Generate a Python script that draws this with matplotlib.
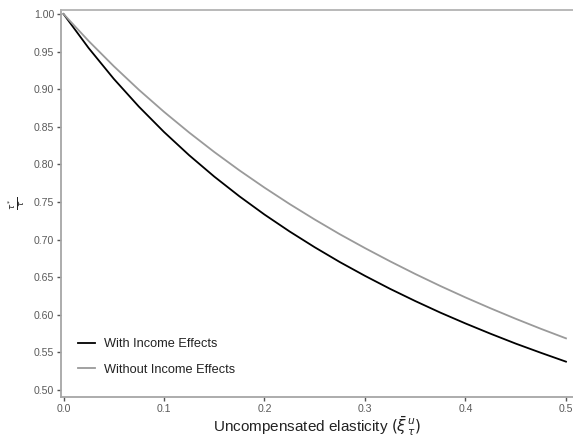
import numpy as np
import matplotlib
matplotlib.use("Agg")
import matplotlib.pyplot as plt

plt.rcParams['font.family'] = ['Liberation Sans', 'DejaVu Sans']
plt.rcParams['mathtext.fontset'] = 'dejavusans'

# elasticity grid and ratios
elasticity = [0.0, 0.025, 0.05, 0.075, 0.1, 0.125, 0.15, 0.175, 0.2, 0.225, 0.25,
              0.275, 0.3, 0.325, 0.35, 0.375, 0.4, 0.425, 0.45, 0.475, 0.5]
with_income = [1.0, 0.9547, 0.9138, 0.8768, 0.8431, 0.8122, 0.7838, 0.7576, 0.7333, 0.7108, 0.6898,
               0.6701, 0.6518, 0.6345, 0.6183, 0.6029, 0.5885, 0.5748, 0.5617, 0.5495, 0.5377]
without_income = [1.0, 0.9641, 0.9306, 0.8992, 0.8699, 0.8424, 0.8165, 0.7921, 0.7691, 0.7473, 0.7267,
                  0.7071, 0.6887, 0.6711, 0.6543, 0.6383, 0.6231, 0.6086, 0.5947, 0.5814, 0.5687]
labels = ["With Income Effects", "Without Income Effects"]
xticks = [0.0, 0.1, 0.2, 0.3, 0.4, 0.5]
yticks = np.arange(0.50, 1.001, 0.05)

W, H = 573, 438
fig = plt.figure(figsize=(W / 100, H / 100), dpi=100)
ax = fig.add_axes([61 / W, (H - 397) / H, (W - 61) / W, (397 - 10) / H])

ax.plot(elasticity, with_income, color='black', lw=1.3, label=labels[0])
ax.plot(elasticity, without_income, color='#9a9a9a', lw=1.3, label=labels[1])

ax.set_xlim(-0.0025, 0.5070)
ax.set_ylim(0.4907, 1.0053)
ax.set_xticks(xticks)
ax.set_xticklabels(["%.1f" % v for v in xticks])
ax.set_yticks(yticks)
ax.set_yticklabels(["%.2f" % v for v in yticks])

### axis styling
for side in ['left', 'bottom']:
    ax.spines[side].set_color('#a6a6a6')
    ax.spines[side].set_linewidth(1.3)
ax.spines['top'].set_color('#b3b3b3')
ax.spines['top'].set_linewidth(1.3)
ax.spines['right'].set_visible(False)
ax.tick_params(axis='both', length=3, width=1.0, color='#555555',
               labelcolor='#5a5a5a', labelsize=7.6, pad=2)

ax.set_xlabel(r'Uncompensated elasticity $(\bar{\xi}^{\,u}_{\,\tau})$',
              fontsize=11, color='#222222', labelpad=0)
ax.set_ylabel(r'$\frac{\tau^*}{\tau}$', fontsize=9, color='#222222', labelpad=5)

ax.legend(loc='lower left', bbox_to_anchor=(0.033, 0.055), frameon=False,
          fontsize=9.2, handlelength=1.3, handletextpad=0.75, labelspacing=1.05,
          borderpad=0, borderaxespad=0, labelcolor='#222222')

fig.savefig("out.png", dpi=100)
